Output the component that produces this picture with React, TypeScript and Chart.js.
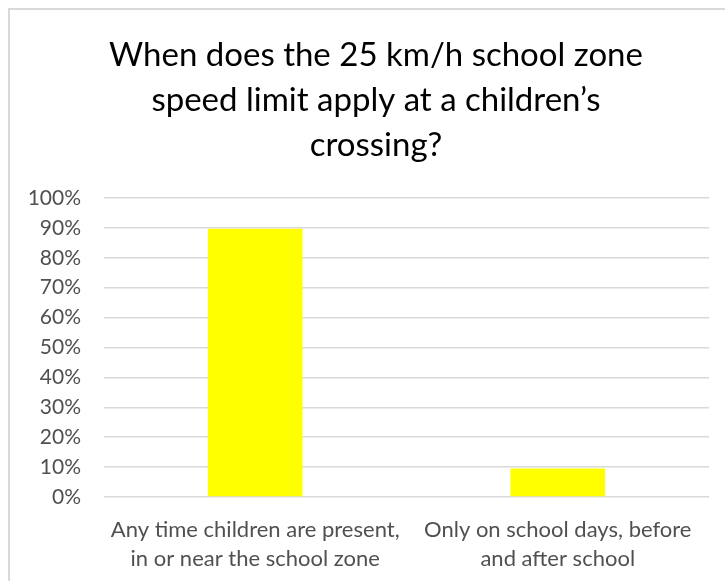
import React, { useEffect, useRef } from "react";
import { Chart, registerables } from "chart.js";

Chart.register(...registerables);

const titleLines = [
  "When does the 25 km/h school zone",
  "speed limit apply at a children\u2019s",
  "crossing?",
];
const categories = [
  ["Any time children are present,", "in or near the school zone"],
  ["Only on school days, before", "and after school"],
];
const percentValues = [89.7, 9.5];
const yTickValues = [0, 10, 20, 30, 40, 50, 60, 70, 80, 90, 100];

const FONT = "Lato, 'Open Sans', sans-serif";

const titlePlugin = {
  id: "wrappedTitle",
  afterDraw(chart: any, _args: any, opts: any) {
    const ctx = chart.ctx;
    ctx.save();
    ctx.fillStyle = opts.color;
    ctx.font = `${opts.size}px ${FONT}`;
    ctx.textAlign = "center";
    ctx.textBaseline = "alphabetic";
    const cx = opts.centerX;
    (opts.lines as string[]).forEach((line, i) => {
      ctx.fillText(line, cx, opts.firstBaseline + i * opts.lineGap);
    });
    ctx.restore();
  },
};

export default function App() {
  const canvasRef = useRef<HTMLCanvasElement | null>(null);

  useEffect(() => {
    if (!canvasRef.current) return;
    const chart = new Chart(canvasRef.current, {
      type: "bar",
      data: {
        labels: categories,
        datasets: [
          {
            data: percentValues,
            backgroundColor: "#ffff00",
            borderWidth: 0,
            categoryPercentage: 1,
            barPercentage: 0.313,
          },
        ],
      },
      options: {
        animation: false,
        responsive: false,
        maintainAspectRatio: false,
        layout: { padding: { top: 188, left: 0, right: 35, bottom: 0 } },
        plugins: {
          legend: { display: false },
          tooltip: { enabled: false },
          title: { display: false },
          wrappedTitle: {
            lines: titleLines,
            size: 33,
            color: "#000000",
            centerX: 366,
            firstBaseline: 56,
            lineGap: 45,
          },
        } as any,
        scales: {
          x: {
            grid: { display: false },
            border: { display: false },
            ticks: {
              color: "#505050",
              font: { family: FONT, size: 22, lineHeight: 1.32 },
              padding: 10,
              maxRotation: 0,
              autoSkip: false,
            },
            afterFit: (s: any) => {
              s.height = 85;
            },
          },
          y: {
            min: 0,
            max: 100,
            afterBuildTicks: (s: any) => {
              s.ticks = yTickValues.map((v) => ({ value: v }));
            },
            grid: { color: "#d9d9d9", lineWidth: 1.5, drawTicks: false },
            border: { display: false },
            ticks: {
              color: "#505050",
              font: { family: FONT, size: 21 },
              padding: 23,
              callback: (v: any) => `${v}%`,
            },
            afterFit: (s: any) => {
              s.width = 94;
            },
          },
        },
      },
      plugins: [titlePlugin],
    });
    return () => chart.destroy();
  }, []);

  return (
    <div
      style={{
        position: "fixed",
        left: 8,
        top: 8,
        width: 717,
        height: 573,
        overflow: "hidden",
        background: "#ffffff",
      }}
    >
      <div
        style={{
          width: 740,
          height: 580,
          borderTop: "2px solid #d9d9d9",
          borderLeft: "2px solid #d9d9d9",
          boxSizing: "border-box",
        }}
      >
        <canvas ref={canvasRef} width={734} height={572} style={{ display: "block" }} />
      </div>
    </div>
  );
}
